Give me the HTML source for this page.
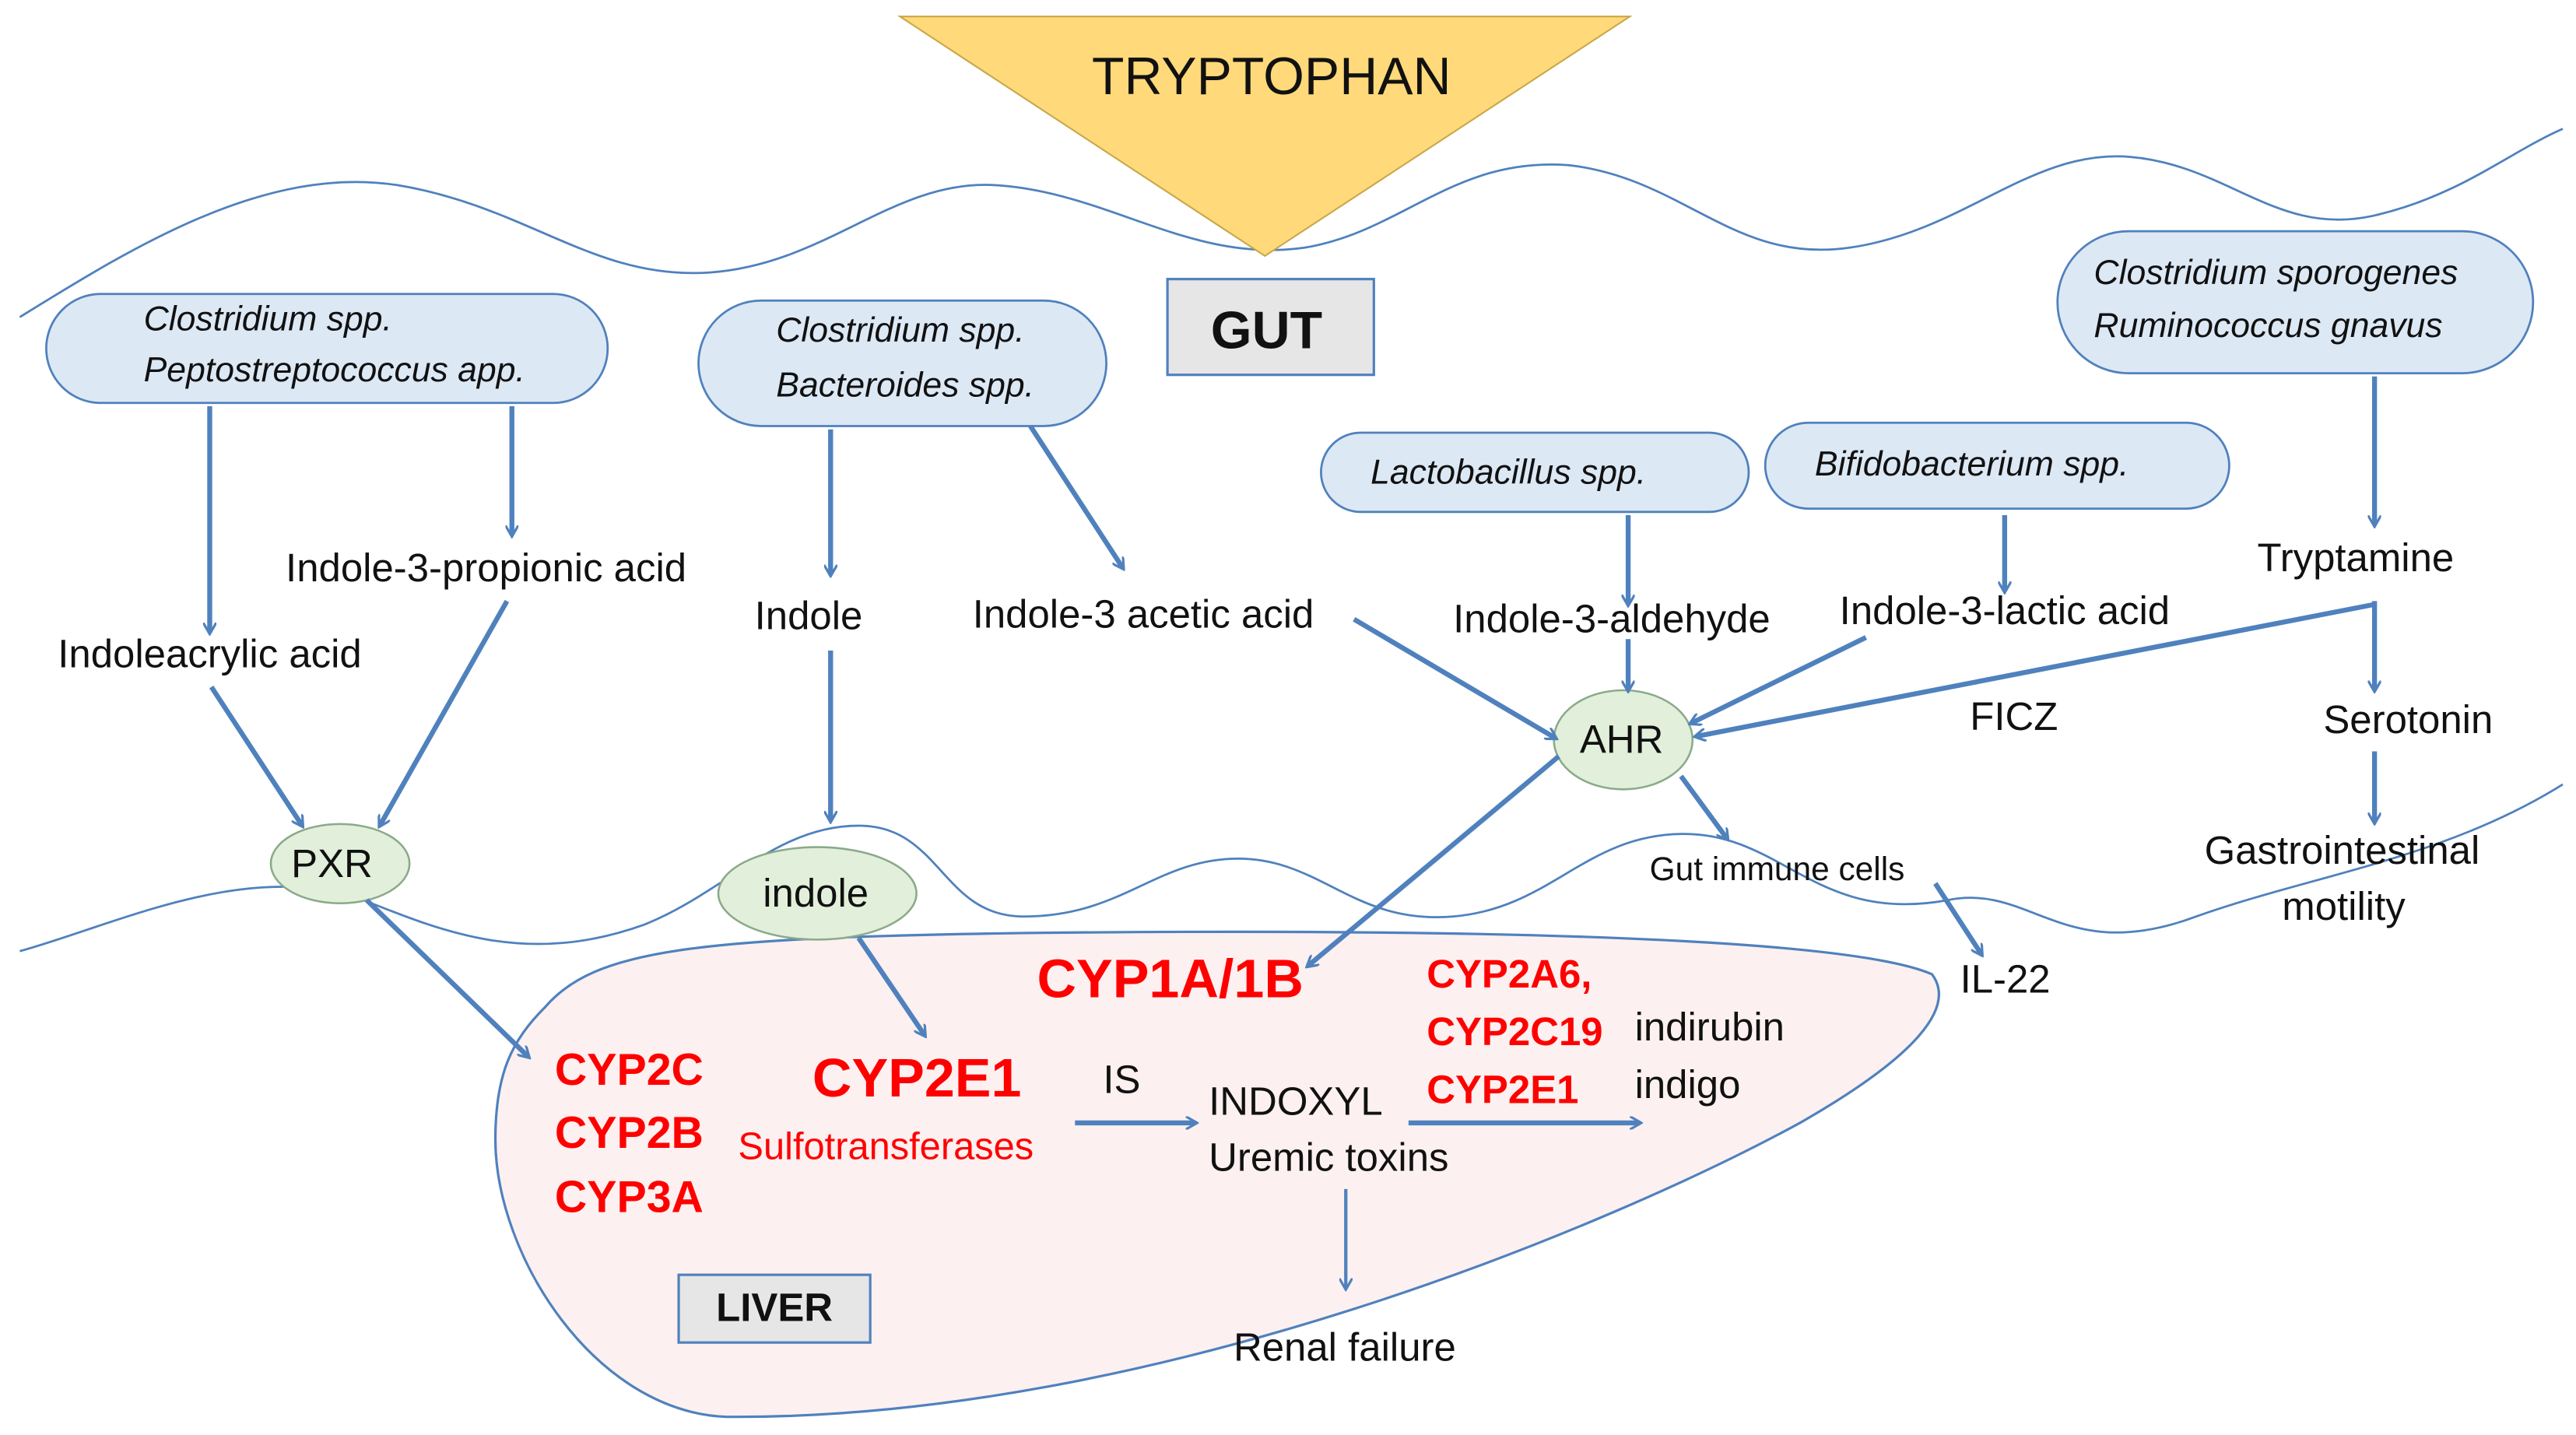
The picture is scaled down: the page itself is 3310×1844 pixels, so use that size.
<!DOCTYPE html>
<html><head><meta charset="utf-8"><style>
html,body{margin:0;padding:0;background:#fff;}
svg{display:block;}
text{font-family:"Liberation Sans",sans-serif;fill:#111;}
.i{font-style:italic;font-size:21px;}
.l{font-size:24px;}
.r{fill:#ff0000;font-weight:bold;font-size:27px;}
</style></head><body>
<svg width="3310" height="1844" viewBox="0 0 1560 869" preserveAspectRatio="none" xmlns="http://www.w3.org/2000/svg">
<defs><marker id="a" markerWidth="8" markerHeight="8" refX="6" refY="4" orient="auto" markerUnits="userSpaceOnUse"><path d="M0,0 L7,4 L0,8" fill="none" stroke="#4f81bd" stroke-width="1.5"/></marker></defs>
<!-- liver -->
<path d="M330,610 C360,575 420,568 620,565 C900,562 1120,568 1170,590 C1185,610 1160,640 1090,680 C980,740 700,860 440,858 C360,855 300,760 300,690 C300,650 310,630 330,610 Z" fill="#fdf0f0" stroke="#4f81bd" stroke-width="1.5"/>
<!-- waves -->
<path d="M12,192 C80,150 160,100 240,112 C320,125 360,170 430,165 C500,160 540,110 600,112 C670,115 720,160 790,150 C850,140 880,95 950,100 C1020,108 1050,160 1120,150 C1190,140 1230,90 1290,95 C1350,100 1380,145 1440,130 C1490,118 1520,92 1552,78" fill="none" stroke="#4f81bd" stroke-width="1.3"/>
<path d="M12,576 C70,560 150,520 220,545 C270,565 320,585 390,560 C440,540 470,500 520,500 C570,500 570,555 620,555 C680,555 700,520 750,520 C800,520 820,560 880,555 C940,550 960,505 1020,505 C1080,505 1100,560 1180,545 C1230,535 1250,585 1330,555 C1400,530 1480,520 1552,475" fill="none" stroke="#4f81bd" stroke-width="1.3"/>
<!-- tryptophan -->
<polygon points="545,10 987,10 766,155" fill="#ffd97a" stroke="#c9a84a" stroke-width="1"/>
<text x="770" y="57" text-anchor="middle" style="font-size:32px">TRYPTOPHAN</text>
<rect x="707" y="169" width="125" height="58" fill="#e6e6e6" stroke="#4f81bd" stroke-width="1.5"/>
<text x="767" y="211" text-anchor="middle" style="font-size:32px;font-weight:bold">GUT</text>
<rect x="411" y="772" width="116" height="41" fill="#e6e6e6" stroke="#4f81bd" stroke-width="1.5"/>
<text x="469" y="800" text-anchor="middle" style="font-size:24px;font-weight:bold">LIVER</text>
<!-- bacteria -->
<g fill="#dde8f5" stroke="#4f81bd" stroke-width="1.3">
<rect x="28" y="178" width="340" height="66" rx="33"/>
<rect x="423" y="182" width="247" height="76" rx="38"/>
<rect x="800" y="262" width="259" height="48" rx="24"/>
<rect x="1069" y="256" width="281" height="52" rx="26"/>
<rect x="1246" y="140" width="288" height="86" rx="43"/>
</g>
<text x="87" y="200" class="i">Clostridium spp.</text>
<text x="87" y="231" class="i">Peptostreptococcus app.</text>
<text x="470" y="207" class="i">Clostridium spp.</text>
<text x="470" y="240" class="i">Bacteroides spp.</text>
<text x="830" y="293" class="i">Lactobacillus spp.</text>
<text x="1099" y="288" class="i">Bifidobacterium spp.</text>
<text x="1268" y="172" class="i">Clostridium sporogenes</text>
<text x="1268" y="204" class="i">Ruminococcus gnavus</text>
<!-- nodes -->
<g fill="#e2efda" stroke="#8aaa8a" stroke-width="1.2">
<ellipse cx="206" cy="523" rx="42" ry="24"/>
<ellipse cx="495" cy="541" rx="60" ry="28"/>
<ellipse cx="983" cy="448" rx="42" ry="30"/>
</g>
<text x="201" y="531" class="l" text-anchor="middle">PXR</text>
<text x="494" y="549" class="l" text-anchor="middle">indole</text>
<text x="982" y="456" class="l" text-anchor="middle">AHR</text>
<!-- labels -->
<text x="173" y="352" class="l">Indole-3-propionic acid</text>
<text x="35" y="404" class="l">Indoleacrylic acid</text>
<text x="457" y="381" class="l">Indole</text>
<text x="589" y="380" class="l">Indole-3 acetic acid</text>
<text x="880" y="383" class="l">Indole-3-aldehyde</text>
<text x="1114" y="378" class="l">Indole-3-lactic acid</text>
<text x="1367" y="346" class="l">Tryptamine</text>
<text x="1193" y="442" class="l">FICZ</text>
<text x="1407" y="444" class="l">Serotonin</text>
<text x="1335" y="523" class="l">Gastrointestinal</text>
<text x="1382" y="557" class="l">motility</text>
<text x="999" y="533" style="font-size:20px">Gut immune cells</text>
<text x="1187" y="601" class="l">IL-22</text>
<text x="628" y="604" class="r" style="font-size:33px">CYP1A/1B</text>
<text x="336" y="657" class="r">CYP2C</text>
<text x="336" y="695" class="r">CYP2B</text>
<text x="336" y="734" class="r">CYP3A</text>
<text x="492" y="664" class="r" style="font-size:33px">CYP2E1</text>
<text x="447" y="702" style="font-size:23px;fill:#ff0000">Sulfotransferases</text>
<text x="864" y="598" class="r" style="font-size:24px">CYP2A6,</text>
<text x="864" y="633" class="r" style="font-size:24px">CYP2C19</text>
<text x="864" y="668" class="r" style="font-size:24px">CYP2E1</text>
<text x="990" y="630" class="l">indirubin</text>
<text x="990" y="665" class="l">indigo</text>
<text x="668" y="662" class="l">IS</text>
<text x="732" y="675" class="l">INDOXYL</text>
<text x="732" y="709" class="l">Uremic toxins</text>
<text x="747" y="824" class="l">Renal failure</text>
<!-- arrows -->
<g stroke="#4f81bd" stroke-width="3" fill="none" marker-end="url(#a)">
<line x1="127" y1="246" x2="127" y2="383"/>
<line x1="310" y1="246" x2="310" y2="324"/>
<line x1="128" y1="416" x2="183" y2="500"/>
<line x1="307" y1="364" x2="230" y2="500"/>
<line x1="503" y1="260" x2="503" y2="348"/>
<line x1="503" y1="394" x2="503" y2="497"/>
<line x1="624" y1="258" x2="680" y2="344"/>
<line x1="820" y1="375" x2="942" y2="447"/>
<line x1="986" y1="312" x2="986" y2="366"/>
<line x1="986" y1="387" x2="986" y2="418"/>
<line x1="1214" y1="312" x2="1214" y2="358"/>
<line x1="1130" y1="386" x2="1024" y2="438"/>
<line x1="1438" y1="228" x2="1438" y2="318"/>
<line x1="1438" y1="364" x2="1438" y2="418"/>
<line x1="1438" y1="455" x2="1438" y2="498"/>
<line x1="1438" y1="366" x2="1027" y2="446"/>
<line x1="1018" y1="470" x2="1046" y2="508"/>
<line x1="1172" y1="535" x2="1200" y2="578"/>
<line x1="944" y1="458" x2="792" y2="585"/>
<line x1="222" y1="545" x2="320" y2="640"/>
<line x1="520" y1="568" x2="560" y2="627"/>
<line x1="651" y1="680" x2="724" y2="680"/>
<line x1="853" y1="680" x2="993" y2="680"/>
<line x1="815" y1="720" x2="815" y2="780" stroke-width="2"/>
</g>
</svg>
</body></html>
